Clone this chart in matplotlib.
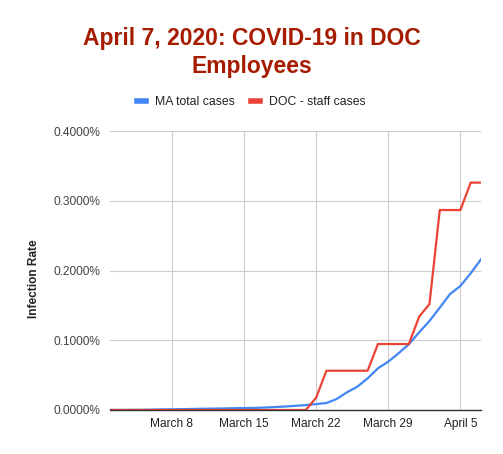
import numpy as np
import matplotlib
matplotlib.use('Agg')
import matplotlib.pyplot as plt
from matplotlib.ticker import FuncFormatter

# Daily dates, March 2 - April 7, 2020
dates = np.arange(np.datetime64('2020-03-02'), np.datetime64('2020-04-08'))

# Infection rate in percent
ma_total = [0.0001, 0.0001, 0.0002, 0.0003, 0.0005, 0.0008, 0.0010, 0.0012,
            0.0015, 0.0018, 0.0020, 0.0022, 0.0025, 0.0028, 0.0030, 0.0035,
            0.0042, 0.0050, 0.0060, 0.0070, 0.0085, 0.0100, 0.0158, 0.0254,
            0.0334, 0.0454, 0.0598, 0.0693, 0.0813, 0.0942, 0.1114, 0.1276,
            0.1467, 0.1663, 0.1778, 0.1960, 0.2160]
doc_staff = [0.0] * 20 + [0.0176, 0.0563, 0.0563, 0.0563, 0.0563, 0.0563,
                          0.0946, 0.0946, 0.0946, 0.0946, 0.1338, 0.1520,
                          0.2867, 0.2867, 0.2867, 0.3260, 0.3260]

tick_dates = ['2020-03-08', '2020-03-15', '2020-03-22', '2020-03-29', '2020-04-05']
tick_labels = ['March 8', 'March 15', 'March 22', 'March 29', 'April 5']
y_ticks = [0.0, 0.1, 0.2, 0.3, 0.4]

plt.rcParams['font.family'] = ['Liberation Sans', 'DejaVu Sans']

fig = plt.figure(figsize=(5.03, 4.54), dpi=100)
fig.patch.set_facecolor('white')
ax = fig.add_axes([110 / 503, 44 / 454, 371 / 503, 279 / 454])

x = dates.astype('datetime64[D]').astype(object)
ax.plot(x, ma_total, color='#4285f4', linewidth=1.6, label='MA total cases',
        solid_joinstyle='round')
ax.plot(x, doc_staff, color='#ea4335', linewidth=1.6, label='DOC - staff cases',
        solid_joinstyle='round')

ax.set_xlim(x[0], x[-1])
ax.set_ylim(0, 0.4)
ax.set_xticks([np.datetime64(d).astype(object) for d in tick_dates])
ax.set_xticklabels(tick_labels)
ax.set_yticks(y_ticks)
ax.yaxis.set_major_formatter(FuncFormatter(lambda v, p: f'{v:.4f}%'))

ax.grid(True, color='#cccccc', linewidth=0.8)
ax.set_axisbelow(True)
for s in ['top', 'right', 'left']:
    ax.spines[s].set_visible(False)
ax.spines['bottom'].set_color('#333333')
ax.spines['bottom'].set_linewidth(1.0)
ax.spines['bottom'].set_zorder(5)
ax.tick_params(axis='both', length=0, labelsize=8.6, colors='#222222', pad=6)
ax.tick_params(axis='y', pad=7, colors='#444444')

ax.set_ylabel('Infection Rate', fontsize=8.6, fontweight='bold', color='#222222')
ax.yaxis.set_label_coords(-0.19, 0.471)

fig.text(0.5, 1 - 45 / 454, 'April 7, 2020: COVID-19 in DOC', ha='center', va='baseline',
         fontsize=16.5, fontweight='bold', color='#a61c00')
fig.text(0.5, 1 - 73 / 454, 'Employees', ha='center', va='baseline',
         fontsize=16.5, fontweight='bold', color='#a61c00')

fig.legend(loc='center', bbox_to_anchor=(0.5, 1 - 102 / 454), ncol=2, frameon=False,
           fontsize=8.8, handlelength=0.7, handleheight=0.4, columnspacing=1.3,
           handletextpad=0.8, labelcolor='#222222')
for line in fig.legends[0].get_lines():
    line.set_linewidth(4)

fig.savefig('out.png', dpi=100, facecolor='white')
